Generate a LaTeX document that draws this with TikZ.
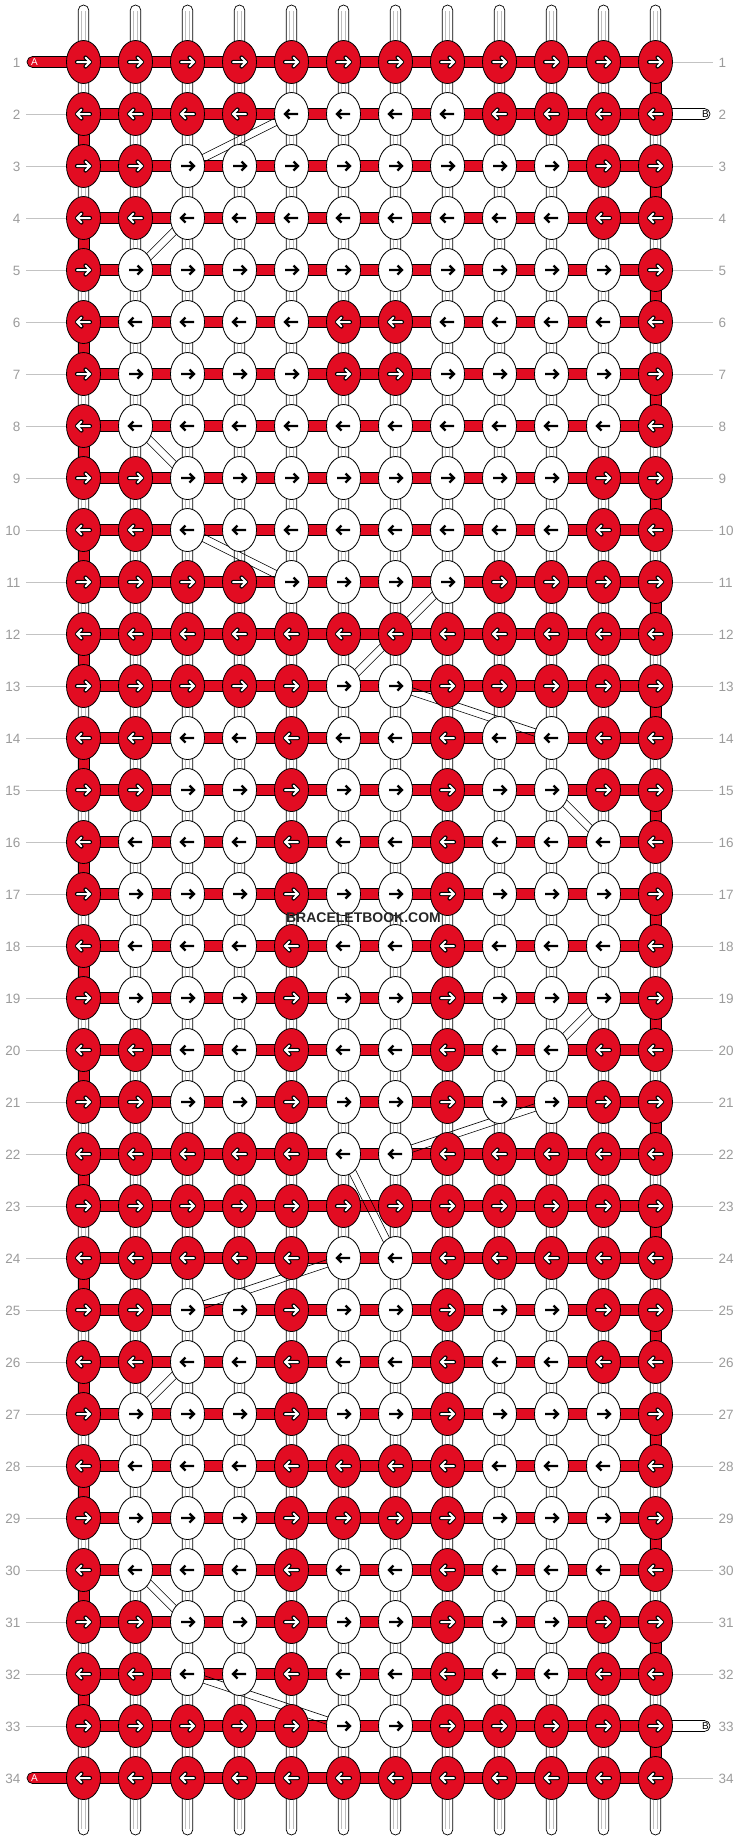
\documentclass[tikz,border=0pt]{standalone}
\usepackage{fontspec}
\setmainfont{Liberation Sans}
\usetikzlibrary{calc,shapes.geometric}
\definecolor{kred}{RGB}{226,12,34}
\definecolor{lblgray}{RGB}{155,155,155}
\definecolor{linegray}{RGB}{195,195,195}
\definecolor{strgray}{RGB}{190,190,190}
\begin{document}
\begin{tikzpicture}[x=1pt,y=-1pt,
  every node/.style={inner sep=0pt,outer sep=0pt},
  knotbase/.style={ellipse,draw=black,line width=0.8pt,minimum width=34pt,minimum height=43pt},
  redknot/.style={knotbase,fill=kred},
  whiteknot/.style={knotbase,fill=white},
  stringv/.style={draw=black,fill=white,line width=0.7pt,rounded corners=5.3pt},
  strline/.style={draw=strgray,line width=0.6pt},
  bandh/.style={draw=black,fill=kred,line width=0.7pt},
  tailB/.style={draw=black,fill=white,line width=0.7pt,rounded corners=5.5pt},
  diagline/.style={draw=black,line width=0.6pt},
  rowline/.style={draw=linegray,line width=0.8pt},
  rownum/.style={text=lblgray,font=\fontsize{13.5}{14}\selectfont},
  tailtxt/.style={font=\fontsize{10}{10}\selectfont},
  arrout/.style={draw=black,line width=4.2pt,line cap=round,line join=round},
  arrin/.style={draw=white,line width=2pt,line cap=round,line join=miter},
  arrblk/.style={draw=black,line width=2.2pt,line cap=butt,line join=miter},
]
\useasboundingbox (0,0) rectangle (740,1840);
% knot centres
\foreach \r in {1,...,34}{
  \foreach \c in {1,...,12}{
    \coordinate (p-\r-\c) at ({83.5+52*(\c-1)},{62+52*(\r-1)});
  }
}
% vertical strings
\foreach \c in {1,...,12}{
  \coordinate (st-\c) at ({83.5+52*(\c-1)},5);
  \coordinate (sb-\c) at ({83.5+52*(\c-1)},1835);
  \draw[stringv] ($(st-\c)+(-5.3,0)$) rectangle ($(sb-\c)+(5.3,0)$);
  \draw[strline] ($(st-\c)+(-1.8,6)$) -- ($(sb-\c)+(-1.8,-6)$);
  \draw[strline] ($(st-\c)+(1.8,6)$) -- ($(sb-\c)+(1.8,-6)$);
}
% gray row lines and numbers
\foreach \r in {1,...,34}{
  \ifnum\r=1\else\ifnum\r=34\else
    \draw[rowline] ($(p-\r-1)+(-57.5,0)$) -- (p-\r-1);
  \fi\fi
  \ifnum\r=2\else\ifnum\r=33\else
    \draw[rowline] (p-\r-12) -- ($(p-\r-12)+(57.5,0)$);
  \fi\fi
  \node[rownum,anchor=east] (ln-\r) at ($(p-\r-1)+(-63,0.5)$) {\r};
  \node[rownum,anchor=west] (rn-\r) at ($(p-\r-12)+(63,0.5)$) {\r};
}
% tails
\draw[bandh,rounded corners=5.5pt] ($(p-1-1)+(-56.5,-5.5)$) rectangle ($(p-1-1)+(0,5.5)$);
\draw[bandh,rounded corners=5.5pt] ($(p-34-1)+(-56.5,-5.5)$) rectangle ($(p-34-1)+(0,5.5)$);
\node[tailtxt,text=white] (ta1) at ($(p-1-1)+(-49,0)$) {A};
\node[tailtxt,text=white] (ta2) at ($(p-34-1)+(-49,0)$) {A};
\draw[tailB] (p-2-12) ++(0,-5.5) rectangle ($(p-2-12)+(54.5,5.5)$);
\draw[tailB] (p-33-12) ++(0,-5.5) rectangle ($(p-33-12)+(54.5,5.5)$);
\node[tailtxt,text=black] (tb1) at ($(p-2-12)+(50,0)$) {B};
\node[tailtxt,text=black] (tb2) at ($(p-33-12)+(50,0)$) {B};
% horizontal bands
\foreach \r in {1,...,34}{
  \draw[bandh] ($(p-\r-1)+(0,-5.5)$) rectangle ($(p-\r-12)+(0,5.5)$);
}
% edge turns
\foreach \r in {2,4,...,32}{
  \pgfmathtruncatemacro\rn{\r+1}
  \draw[bandh] ($(p-\r-1)+(-5.5,0)$) rectangle ($(p-\rn-1)+(5.5,0)$);
}
\foreach \r in {1,3,...,33}{
  \pgfmathtruncatemacro\rn{\r+1}
  \draw[bandh] ($(p-\r-12)+(-5.5,0)$) rectangle ($(p-\rn-12)+(5.5,0)$);
}
% diagonal crossing strings
\foreach \a/\b in {2-5/3-3,4-3/5-2,8-2/9-3,10-3/11-5,11-8/13-6,13-7/14-10,15-10/16-11,19-11/20-10,21-10/22-7,22-6/24-7,24-6/25-3,26-3/27-2,30-2/31-3,32-3/33-6}{
  \draw[diagline] ($(p-\a)!3.7pt!90:(p-\b)$) -- ($(p-\b)!3.7pt!-90:(p-\a)$);
  \draw[diagline] ($(p-\a)!3.7pt!-90:(p-\b)$) -- ($(p-\b)!3.7pt!90:(p-\a)$);
}
% knots
\foreach \r/\pat in {1/63,2/15,3/3,4/3,5/1,6/33,7/33,8/1,9/3,10/3,11/15,12/63,13/31,14/19,15/19,16/17,17/17,18/17,19/17,20/19,21/19,22/31,23/63,24/31,25/19,26/19,27/17,28/49,29/49,30/17,31/19,32/19,33/31,34/63}{
  \pgfmathtruncatemacro\kd{ifthenelse(mod(\r,2)==1,1,-1)}
  \foreach \c in {1,...,12}{
    \pgfmathtruncatemacro\km{min(\c,13-\c)}
    \pgfmathtruncatemacro\kb{mod(floor(\pat/(2^(\km-1))),2)}
    \ifnum\kb=1
      \node[redknot] (k-\r-\c) at (p-\r-\c) {};
      \begin{scope}[shift={(p-\r-\c)},xscale=\kd]
        \draw[arrout] (-6.5,0) -- (6.5,0) (2,-4.5) -- (6.5,0) -- (2,4.5);
        \draw[arrin] (-6.5,0) -- (6.5,0) (2,-4.5) -- (6.5,0) -- (2,4.5);
      \end{scope}
    \else
      \node[whiteknot] (k-\r-\c) at (p-\r-\c) {};
      \begin{scope}[shift={(p-\r-\c)},xscale=\kd]
        \draw[arrblk] (-6.5,0) -- (6.5,0) (2,-4.5) -- (6.5,0) -- (2,4.5);
      \end{scope}
    \fi
  }
}
% watermark
\node[font=\bfseries\fontsize{14}{14}\selectfont,text=black!85] (wm) at (363.5,918) {BRACELETBOOK.COM};
\end{tikzpicture}
\end{document}
